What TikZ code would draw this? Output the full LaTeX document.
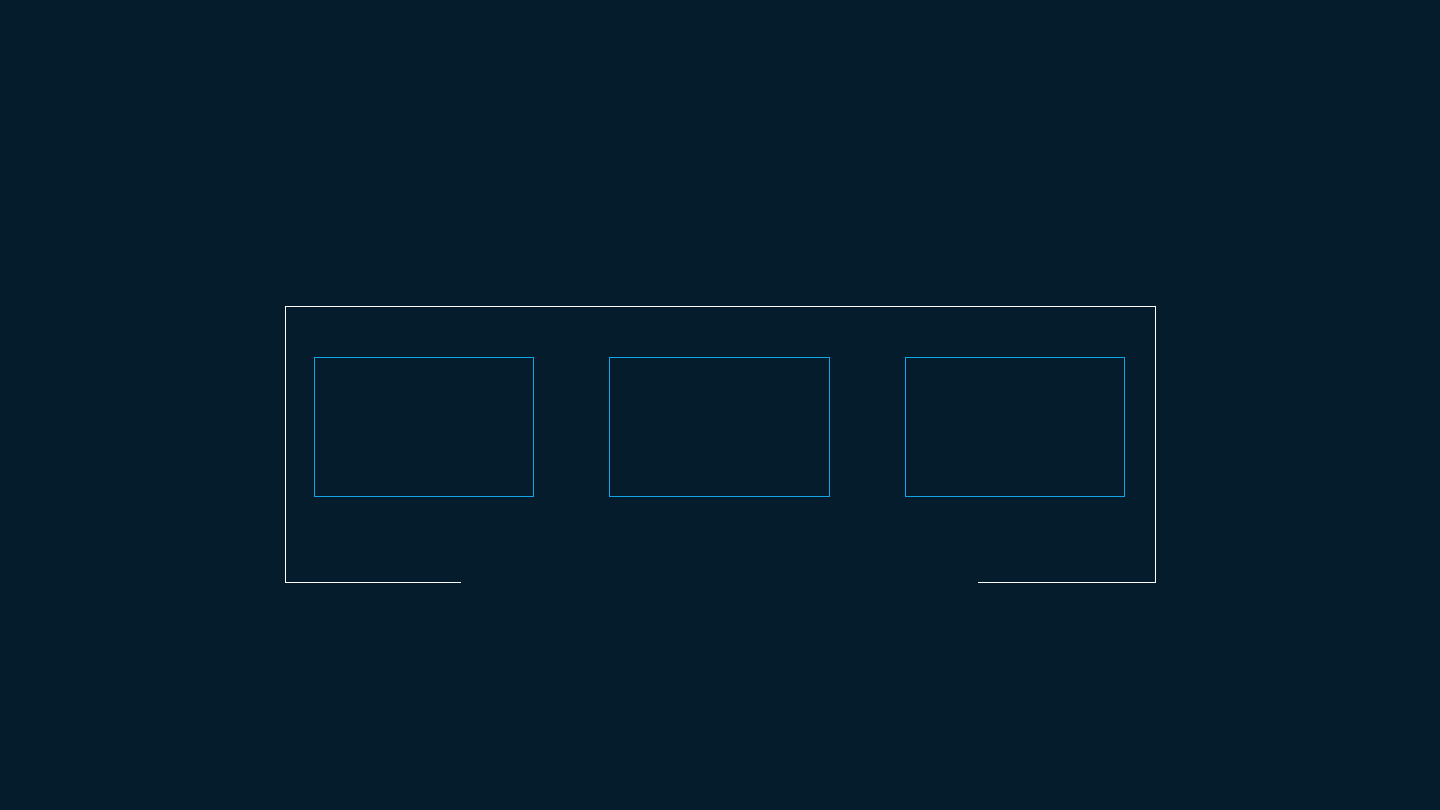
\documentclass[tikz,border=0pt]{standalone}
\definecolor{bgc}{HTML}{041C2C}
\definecolor{boxblue}{HTML}{0EA5E9}
\begin{document}
\begin{tikzpicture}[x=1pt,y=-1pt,
  panel/.style={draw=boxblue,line width=1pt,rectangle,minimum width=219pt,minimum height=139pt,inner sep=0pt,anchor=north west},
  frame/.style={draw=white,line width=1pt}]
\fill[bgc] (0,0) rectangle (1440,810);
\useasboundingbox (0,0) rectangle (1440,810);
\node[panel] (p1) at (314,357) {};
\node[panel,minimum width=220pt] (p2) at (609,357) {};
\node[panel,minimum width=219.5pt] (p3) at (904.8,357) {};
\coordinate (gl) at (461,582);
\coordinate (gr) at (978,582);
\draw[frame] (gl) -- (285.5,582) -- (285.5,306.5) -- (1155.5,306.5) -- (1155.5,582) -- (gr);
\end{tikzpicture}
\end{document}
